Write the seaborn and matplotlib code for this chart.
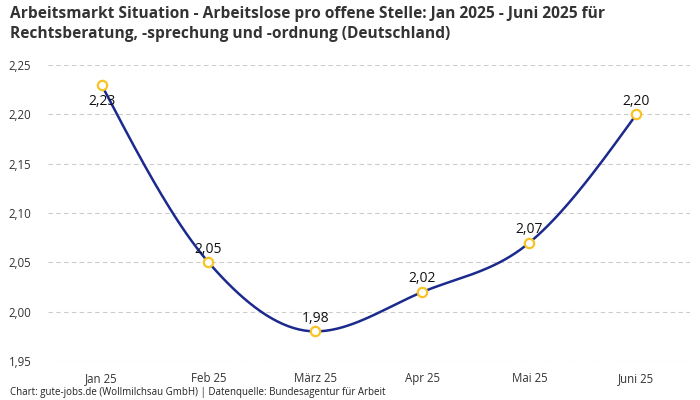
import numpy as np
import pandas as pd
import matplotlib
matplotlib.use("Agg")
import matplotlib.pyplot as plt
import seaborn as sns

# --- data ---
months = ["Jan 25", "Feb 25", "März 25", "Apr 25", "Mai 25", "Juni 25"]
values = [2.23, 2.05, 1.98, 2.02, 2.07, 2.20]

df = pd.DataFrame({"month": months, "value": values, "pos": range(len(months))})

LINE = "#1b2a8c"
MARK = "#f7c325"


def monotone_curve(x, y, n=40):
    # monotone cubic (Fritsch-Carlson / d3 monotoneX) just for drawing the line
    x = np.asarray(x, float)
    y = np.asarray(y, float)
    h = np.diff(x)
    s = np.diff(y) / h
    m = np.zeros_like(y)
    for i in range(1, len(y) - 1):
        if s[i - 1] * s[i] <= 0:
            m[i] = 0
        else:
            p = (s[i - 1] * h[i] + s[i] * h[i - 1]) / (h[i - 1] + h[i])
            m[i] = (np.sign(s[i - 1]) + np.sign(s[i])) * min(abs(s[i - 1]), abs(s[i]), 0.5 * abs(p))
    m[0] = (3 * s[0] - m[1]) / 2 if len(y) > 2 else s[0]
    m[-1] = (3 * s[-1] - m[-2]) / 2 if len(y) > 2 else s[-1]
    xs, ys = [], []
    for i in range(len(x) - 1):
        t = np.linspace(0, 1, n)
        h00 = 2 * t**3 - 3 * t**2 + 1
        h10 = t**3 - 2 * t**2 + t
        h01 = -2 * t**3 + 3 * t**2
        h11 = t**3 - t**2
        xs.append(x[i] + t * h[i])
        ys.append(h00 * y[i] + h10 * h[i] * m[i] + h01 * y[i + 1] + h11 * h[i] * m[i + 1])
    return np.concatenate(xs), np.concatenate(ys)


sns.set_theme(style="white")
plt.rcParams["font.family"] = ["Open Sans", "DejaVu Sans"]

fig = plt.figure(figsize=(7, 4), dpi=100)
ax = fig.add_axes([0.0686, 0.0975, 0.917, 0.74])

cx, cy = monotone_curve(df["pos"], df["value"])
ax.plot(cx, cy, color=LINE, lw=1.8, zorder=2)
sns.scatterplot(data=df, x="pos", y="value", ax=ax, s=45, marker="o",
                facecolor="white", edgecolor=MARK, linewidth=1.6, zorder=3)

for i, v in enumerate(values):
    label = f"{v:.2f}".replace(".", ",")
    if v >= 2.22:
        ax.annotate(label, (i, v), xytext=(0, -7), textcoords="offset points",
                    ha="center", va="top", fontsize=10, fontweight="medium",
                    color="#111111", zorder=4)
    else:
        ax.annotate(label, (i, v), xytext=(0, 4), textcoords="offset points",
                    ha="center", va="bottom", fontsize=10, fontweight="medium",
                    color="#111111", zorder=4)

ax.set_xlim(-0.5, len(months) - 0.5)
ax.set_ylim(1.95, 2.25)
ax.set_xticks(range(len(months)))
ax.set_xticklabels(months)
yt = np.arange(1.95, 2.2501, 0.05)
ax.set_yticks(yt)
ax.set_yticklabels([f"{t:.2f}".replace(".", ",") for t in yt])
ax.tick_params(axis="both", labelsize=8.3, colors="#333333", length=0)
ax.tick_params(axis="y", pad=12)
ax.tick_params(axis="x", pad=8)
ax.set_xlabel("")
ax.set_ylabel("")
ax.grid(axis="y", color="#cccccc", linestyle=(0, (4, 3)), lw=0.8)
ax.grid(axis="x", visible=False)
for sp in ax.spines.values():
    sp.set_visible(False)

fig.text(0.014, 0.985, "Arbeitsmarkt Situation - Arbeitslose pro offene Stelle: Jan 2025 - Juni 2025 für\n"
         "Rechtsberatung, -sprechung und -ordnung (Deutschland)",
         ha="left", va="top", fontsize=11.2, fontweight="bold", color="#333333", linespacing=1.3)
fig.text(0.014, 0.006, "Chart: gute-jobs.de (Wollmilchsau GmbH) | Datenquelle: Bundesagentur für Arbeit",
         ha="left", va="bottom", fontsize=7, color="#222222")

fig.savefig("out.png", dpi=100)
